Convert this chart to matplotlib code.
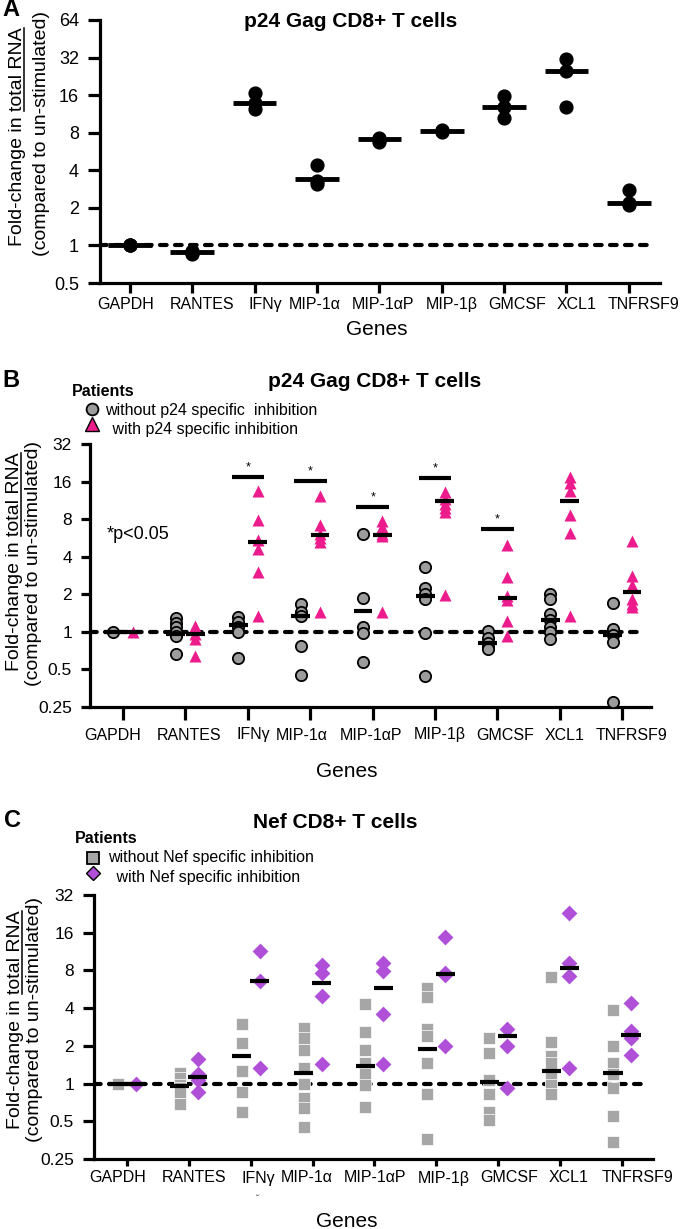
import numpy as np
import matplotlib
matplotlib.use("Agg")
import matplotlib.pyplot as plt
from matplotlib.lines import Line2D
from matplotlib.font_manager import FontProperties
from matplotlib.ticker import NullLocator

plt.rcParams['font.family'] = ['Liberation Sans', 'DejaVu Sans']

# ---------------------------
# 1. Data
# ---------------------------
genes = ["GAPDH", "RANTES", "IFNγ", "MIP-1α", "MIP-1αP", "MIP-1β", "GMCSF", "XCL1", "TNFRSF9"]

# Panel A: p24 Gag CD8+ T cells (3 donors)
a_values = [
    [1.0, 1.0, 1.0],
    [0.9, 0.87, 0.85],
    [16.5, 13.8, 12.5],
    [4.4, 3.3, 3.1],
    [7.3, 7.0, 6.8],
    [8.4, 8.2, 8.1],
    [15.7, 12.8, 10.5],
    [31.0, 25.0, 12.8],
    [2.8, 2.2, 2.1],
]
a_median = [1.0, 0.88, 13.8, 3.4, 7.1, 8.2, 12.8, 25.0, 2.2]

# Panel B: p24 Gag, patients without / with p24 specific inhibition
b_without = [
    [1.0],
    [1.29, 1.18, 1.10, 1.0, 0.93, 0.67],
    [1.32, 1.2, 1.1, 1.0, 0.62],
    [1.67, 1.44, 1.34, 0.77, 0.45],
    [6.1, 1.87, 1.1, 0.98, 0.57],
    [3.3, 2.25, 2.0, 1.84, 0.98, 0.44],
    [1.02, 0.89, 0.81, 0.76, 0.73],
    [2.0, 1.84, 1.39, 1.25, 1.1, 1.0, 0.88],
    [1.7, 1.06, 0.95, 0.83, 0.275],
]
b_without_median = [1.0, 0.96, 1.14, 1.34, 1.47, 1.94, 0.81, 1.25, 0.95]
b_with = [
    [1.0],
    [1.12, 0.97, 0.88, 0.64],
    [13.5, 7.9, 5.4, 4.6, 3.0, 1.34],
    [12.3, 7.2, 6.1, 5.6, 5.2, 1.44],
    [7.7, 6.9, 6.1, 5.9, 1.44],
    [13.2, 11.5, 10.5, 9.8, 9.1, 1.98],
    [5.0, 2.76, 1.95, 1.8, 1.22, 0.93],
    [17.5, 15.5, 13.5, 8.6, 6.2, 1.34],
    [5.35, 2.8, 2.37, 1.84, 1.67, 1.58],
]
b_with_median = [1.0, 0.96, 5.25, 6.0, 6.0, 11.2, 1.87, 11.2, 2.1]
b_sig_genes = [2, 3, 4, 5, 6]
b_sig_level = [17.4, 16.2, 10.0, 17.1, 6.7]

# Panel C: Nef CD8+ T cells, patients without / with Nef specific inhibition
c_without = [
    [1.0],
    [1.22, 1.1, 0.97, 0.93, 0.85, 0.69],
    [2.97, 2.09, 1.27, 0.85, 0.59],
    [2.8, 2.3, 1.84, 1.34, 1.0, 0.77, 0.64, 0.45],
    [4.3, 2.6, 1.84, 1.45, 1.2, 0.97, 0.65],
    [5.8, 4.9, 2.75, 2.4, 1.47, 0.83, 0.36],
    [2.3, 1.77, 1.06, 0.82, 0.59, 0.51],
    [7.1, 2.13, 1.67, 1.45, 1.12, 0.97, 0.83],
    [3.9, 2.0, 1.47, 1.2, 0.93, 0.55, 0.34],
]
c_without_median = [1.0, 0.95, 1.65, 1.22, 1.37, 1.9, 1.02, 1.25, 1.22]
c_with = [
    [1.0],
    [1.56, 1.2, 1.06, 0.85],
    [11.4, 6.55, 1.32],
    [8.8, 7.6, 5.0, 1.42],
    [9.1, 7.9, 3.6, 1.42],
    [14.7, 7.7, 7.3, 1.98],
    [2.75, 2.0, 0.93],
    [23.0, 9.1, 7.2, 1.34],
    [4.4, 2.65, 2.3, 1.7],
]
c_with_median = [1.0, 1.12, 6.55, 6.3, 5.8, 7.5, 2.38, 8.3, 2.45]

a_yticks = [0.5, 1, 2, 4, 8, 16, 32, 64]
a_ylabels = ["0.5", "1", "2", "4", "8", "16", "32", "64"]
bc_yticks = [0.25, 0.5, 1, 2, 4, 8, 16, 32]
bc_ylabels = ["0.25", "0.5", "1", "2", "4", "8", "16", "32"]

# gene names are typed as a row under each panel, not centred on the ticks
a_label_x = [126, 202, 265, 315, 383, 452, 517, 577, 644]
b_label_x = [113, 189, 253, 302, 371, 440, 505, 565, 631]
c_label_x = [118, 194, 258, 307, 375, 444, 509, 569, 637]

# ---------------------------
# 2. Figure and helpers (pixel positions of the 680x1229 page)
# ---------------------------
W, H = 680, 1229
fig = plt.figure(figsize=(W / 100, H / 100), dpi=100)
PINK = "#ec1c8c"
PURPLE = "#b050d8"
GREY_C = "#9c9c9c"
GREY_S = "#a6a6a6"


def fx(x):
    return x / W


def fy(y):
    return 1 - y / H


def style_axes(ax, yticks, ylabels, xlim, xtick_len, ytick_len, ysize):
    ax.set_yscale('log', base=2)
    ax.set_ylim(yticks[0], yticks[-1])
    ax.set_yticks(yticks)
    ax.set_yticklabels(ylabels)
    ax.yaxis.set_minor_locator(NullLocator())
    ax.set_xticks(range(len(genes)))
    ax.set_xticklabels([])
    ax.set_xlim(*xlim)
    for side in ['top', 'right']:
        ax.spines[side].set_visible(False)
    for side in ['left', 'bottom']:
        ax.spines[side].set_linewidth(2.3)
    ax.tick_params(axis='x', direction='out', length=xtick_len * 0.72, width=2.3)
    ax.tick_params(axis='y', direction='out', length=ytick_len * 0.72, width=2.3,
                   labelsize=ysize, pad=6.5)
    ax.axhline(1, xmin=0, xmax=0.99, color='black', lw=3, dashes=(1.6, 2.0),
               dash_capstyle='round', zorder=2)


def gene_labels(xs, y):
    for name, x in zip(genes, xs):
        fig.text(fx(x), fy(y), name, fontsize=11.5, ha='center', va='center')


def two_line_ylabel(xb1, yc1, xb2, yc2, size=14):
    fp = FontProperties(family=['Liberation Sans'], size=size)
    line1 = "Fold-change in total RNA"
    fig.text(fx(xb1), fy(yc1), line1, rotation=90, rotation_mode='anchor',
             ha='center', va='baseline', fontproperties=fp)
    fig.text(fx(xb2), fy(yc2), "(compared to un-stimulated)", rotation=90,
             rotation_mode='anchor', ha='center', va='baseline', fontproperties=fp)
    # underline "total RNA"
    r = fig.canvas.get_renderer()
    full_w = r.get_text_width_height_descent(line1, fp, ismath=False)[0]
    part_w = r.get_text_width_height_descent("total RNA", fp, ismath=False)[0]
    top = yc1 - full_w / 2
    fig.add_artist(Line2D([fx(xb1 + 2), fx(xb1 + 2)], [fy(top), fy(top + part_w)],
                          lw=1.1, color='black', transform=fig.transFigure))


def legend_entry(x, y, marker, size, face, edge, ew):
    fig.add_artist(Line2D([fx(x)], [fy(y)], marker=marker, markersize=size,
                          markerfacecolor=face, markeredgecolor=edge,
                          markeredgewidth=ew, linestyle='none',
                          transform=fig.transFigure))


x_idx = np.arange(len(genes))

# ---------------------------
# 3. Panel A
# ---------------------------
axA = fig.add_axes([fx(100), fy(283), 560 / W, 263 / H])
style_axes(axA, a_yticks, a_ylabels, (-0.48, 8.5), 10, 12, 13)
for i, vals in enumerate(a_values):
    axA.scatter(np.full(len(vals), i), vals, s=85, color='black', zorder=3, clip_on=False)
axA.hlines(a_median, x_idx - 0.35, x_idx + 0.35, color='black', lw=3.5, zorder=4)

fig.text(fx(2), fy(16), "A", fontsize=17, fontweight='bold', va='baseline')
fig.text(fx(351), fy(27), "p24 Gag CD8+ T cells", fontsize=15, fontweight='bold',
         ha='center', va='baseline')
gene_labels(a_label_x, 305)
fig.text(fx(377), fy(335), "Genes", fontsize=15, ha='center', va='baseline')
two_line_ylabel(22, 137, 46, 134)

# ---------------------------
# 4. Panel B
# ---------------------------
off = 0.155
axB = fig.add_axes([fx(90), fy(707), 561 / W, 263 / H])
style_axes(axB, bc_yticks, bc_ylabels, (-0.53, 8.46), 13, 9, 12.5)
for i in range(len(genes)):
    g = b_without[i]
    p = b_with[i]
    axB.scatter(np.full(len(g), i - off), g, s=66, facecolor=GREY_C, edgecolor='black',
                linewidth=1.3, zorder=3, clip_on=False)
    axB.scatter(np.full(len(p), i + off), p, s=75, marker='^', color=PINK,
                linewidth=0, zorder=3, clip_on=False)
axB.hlines(b_without_median, x_idx - off - 0.15, x_idx - off + 0.15, color='black', lw=3, zorder=4)
axB.hlines(b_with_median, x_idx + off - 0.15, x_idx + off + 0.15, color='black', lw=3, zorder=4)
for gi, lev in zip(b_sig_genes, b_sig_level):
    axB.hlines(lev, gi - 0.26, gi + 0.26, color='black', lw=3, zorder=4, clip_on=False)
    axB.text(gi, lev * 1.06, "*", ha='center', va='bottom', fontsize=9)

fig.text(fx(107), fy(539), "*p<0.05", fontsize=13, va='baseline')
fig.text(fx(2), fy(387), "B", fontsize=17, fontweight='bold', va='baseline')
fig.text(fx(375), fy(387), "p24 Gag CD8+ T cells", fontsize=15, fontweight='bold',
         ha='center', va='baseline')
fig.text(fx(72), fy(396), "Patients", fontsize=11.5, fontweight='bold', va='baseline')
legend_entry(92, 409, 'o', 8.5, GREY_C, 'black', 1.3)
fig.text(fx(105), fy(415), "without p24 specific  inhibition", fontsize=11.5, va='baseline')
legend_entry(92, 424, '^', 9.5, PINK, 'black', 1.0)
fig.text(fx(108), fy(434), " with p24 specific inhibition", fontsize=11.5, va='baseline')
gene_labels(b_label_x, 735)
fig.text(fx(347), fy(777), "Genes", fontsize=15, ha='center', va='baseline')
two_line_ylabel(19, 562, 38, 564)

# ---------------------------
# 5. Panel C
# ---------------------------
off = 0.145
axC = fig.add_axes([fx(94), fy(1159), 559 / W, 264 / H])
style_axes(axC, bc_yticks, bc_ylabels, (-0.53, 8.5), 7, 11, 12.5)
for i in range(len(genes)):
    g = c_without[i]
    p = c_with[i]
    axC.scatter(np.full(len(g), i - off), g, s=85, marker='s', facecolor=GREY_S,
                edgecolor='white', linewidth=0.5, zorder=3, clip_on=False)
    axC.scatter(np.full(len(p), i + off), p, s=65, marker='D', color=PURPLE,
                linewidth=0, zorder=3, clip_on=False)
axC.hlines(c_without_median, x_idx - off - 0.155, x_idx - off + 0.155, color='black', lw=3, zorder=4)
axC.hlines(c_with_median, x_idx + off - 0.155, x_idx + off + 0.155, color='black', lw=3, zorder=4)

fig.text(fx(4), fy(827), "C", fontsize=17, fontweight='bold', va='baseline')
fig.text(fx(335), fy(828), "Nef CD8+ T cells", fontsize=15, fontweight='bold',
         ha='center', va='baseline')
fig.text(fx(75), fy(843), "Patients", fontsize=11.5, fontweight='bold', va='baseline')
legend_entry(93, 858, 's', 8.5, GREY_S, 'black', 1.3)
fig.text(fx(108), fy(862), "without Nef specific inhibition", fontsize=11.5, va='baseline')
legend_entry(93, 873, 'D', 7.5, PURPLE, 'black', 1.0)
fig.text(fx(112), fy(882), " with Nef specific inhibition", fontsize=11.5, va='baseline')
gene_labels(c_label_x, 1178)
fig.text(fx(257), fy(1199), "˘", fontsize=8, color='#555555', ha='center', va='center')
fig.text(fx(347), fy(1227), "Genes", fontsize=15, ha='center', va='baseline')
two_line_ylabel(20, 1020, 39, 1020)

fig.savefig("out.png", dpi=100)
